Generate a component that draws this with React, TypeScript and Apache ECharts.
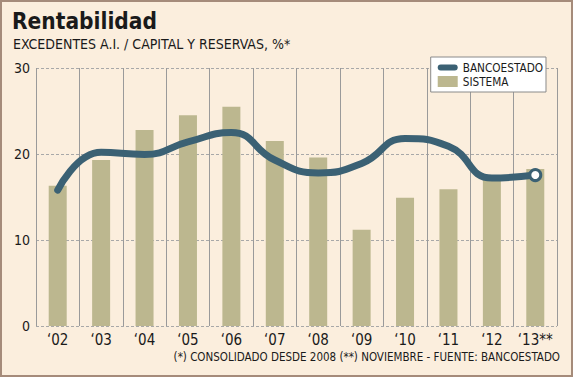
import React, { useEffect, useRef } from "react";
import * as echarts from "echarts";

const categories = ["‘02", "‘03", "‘04", "‘05", "‘06", "‘07", "‘08", "‘09", "‘10", "‘11", "‘12", "‘13**"];
const bancoEstado = [15.8, 20.2, 19.95, 21.4, 22.5, 19.3, 17.8, 18.9, 21.8, 20.9, 17.2, 17.55];
const sistema = [16.3, 19.3, 22.8, 24.5, 25.5, 21.5, 19.6, 11.2, 14.9, 15.9, 17.0, 18.25];
const yTicks = [0, 10, 20, 30];

const FONT = "DejaVu Sans Condensed";

export default function App() {
  const ref = useRef<HTMLDivElement>(null);
  useEffect(() => {
    const chart = echarts.init(ref.current!, null, { renderer: "svg" });
    const lineData = bancoEstado.map((v, i) =>
      i === bancoEstado.length - 1
        ? { value: v, symbol: "circle", symbolSize: 11, itemStyle: { color: "#ffffff", borderColor: "#3b6174", borderWidth: 3 } }
        : { value: v }
    );
    chart.setOption({
      animation: false,
      backgroundColor: "#fbeedd",
      textStyle: { fontFamily: FONT },
      grid: { left: 36, right: 16, top: 68, bottom: 51, containLabel: false },
      graphic: [
        { type: "rect", shape: { x: 1, y: 1, width: 571, height: 375 }, style: { fill: "none", stroke: "#a58b7a", lineWidth: 2 }, silent: true },
        { type: "text", left: 12, top: 9, style: { text: "Rentabilidad", font: `bold 22.5px ${FONT}`, fill: "#1a1a1a" } },
        { type: "text", left: 13, top: 37, style: { text: "EXCEDENTES A.I. / CAPITAL Y RESERVAS, %*", font: `14px ${FONT}`, fill: "#1a1a1a" } },
        { type: "text", right: 13, top: 351, style: { text: "(*) CONSOLIDADO DESDE 2008 (**) NOVIEMBRE - FUENTE: BANCOESTADO", font: `11.5px ${FONT}`, fill: "#1a1a1a" } },
      ],
      legend: {
        right: 27,
        top: 57,
        orient: "vertical",
        backgroundColor: "#ffffff",
        borderColor: "#8a8a8a",
        borderWidth: 1,
        borderRadius: 0,
        padding: [4, 3, 4, 7],
        itemGap: 1,
        itemWidth: 20,
        itemHeight: 11,
        textStyle: { fontFamily: FONT, fontSize: 11.7, lineHeight: 13, color: "#1a1a1a" },
        data: [
          { name: "BANCOESTADO", icon: "path://M3,0 L17,0 A3,3 0 0 1 17,6 L3,6 A3,3 0 0 1 3,0 Z", itemStyle: { color: "#3b6174" } },
          { name: "SISTEMA", icon: "rect" },
        ],
      },
      xAxis: {
        type: "category",
        data: categories,
        boundaryGap: true,
        axisLine: { show: false },
        axisTick: { show: false },
        axisLabel: { interval: 0, fontFamily: FONT, fontSize: 15, color: "#1a1a1a", margin: 6 },
        splitLine: { show: true, interval: 0, lineStyle: { color: "#9a9a9a", width: 1 } },
      },
      yAxis: {
        type: "value",
        min: 0,
        max: 30,
        interval: 10,
        axisLine: { show: false },
        axisTick: { show: false },
        axisLabel: { fontFamily: FONT, fontSize: 14, color: "#1a1a1a", margin: 6, formatter: (v: number) => (yTicks.includes(v) ? String(v) : "") },
        splitLine: { show: true, lineStyle: { color: "#a8a8a8", type: [3, 2], width: 1 } },
      },
      series: [
        {
          name: "SISTEMA",
          type: "bar",
          data: sistema,
          barWidth: 18,
          itemStyle: { color: "#bcb78f" },
          z: 1,
        },
        {
          name: "BANCOESTADO",
          type: "line",
          data: lineData,
          smooth: 0.5,
          symbol: "none",
          lineStyle: { color: "#3b6174", width: 7, cap: "round" },
          itemStyle: { color: "#3b6174" },
          z: 3,
        },
      ],
    });
    return () => chart.dispose();
  }, []);
  return <div ref={ref} style={{ position: "fixed", left: 0, top: 0, width: 573, height: 377 }} />;
}
